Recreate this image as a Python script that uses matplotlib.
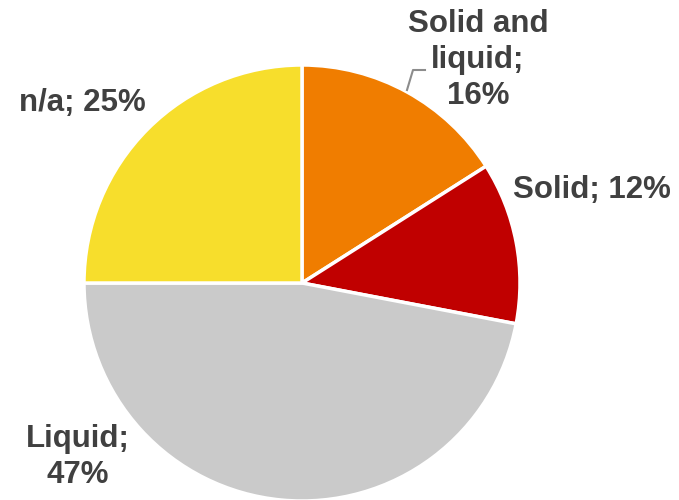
import matplotlib.pyplot as plt

labels = ["Solid and\nliquid;\n16%", "Solid; 12%", "Liquid;\n47%", "n/a; 25%"]
values = [16, 12, 47, 25]
colors = ["#F07D00", "#C00000", "#CACACA", "#F7DE2C"]

# label centres in pixel coords (x from left, y from top)
label_pos = [(478, 60), (592, 190), (78, 457), (82, 103)]

W, H = 679, 500
fig = plt.figure(figsize=(W / 100, H / 100), dpi=100)
ax = fig.add_axes([0, 0, 1, 1])

cx, cy, r = 302, H - 283, 218
ax.pie(values, colors=colors, startangle=90, counterclock=False,
       center=(cx, cy), radius=r, frame=True,
       wedgeprops=dict(edgecolor="white", linewidth=2.5))
ax.set_xlim(0, W)
ax.set_ylim(0, H)
ax.set_aspect("equal")
ax.axis("off")

for lab, (x, y) in zip(labels, label_pos):
    ax.text(x, H - y, lab, ha="center", va="center", fontsize=22.5,
            fontweight="bold", color="#404040", family="Liberation Sans",
            linespacing=1.25)

# leader line for first label
ax.plot([407, 413, 425], [H - 90, H - 70, H - 70], color="#8C8C8C", lw=1.5)

fig.savefig("out.png", dpi=100)
